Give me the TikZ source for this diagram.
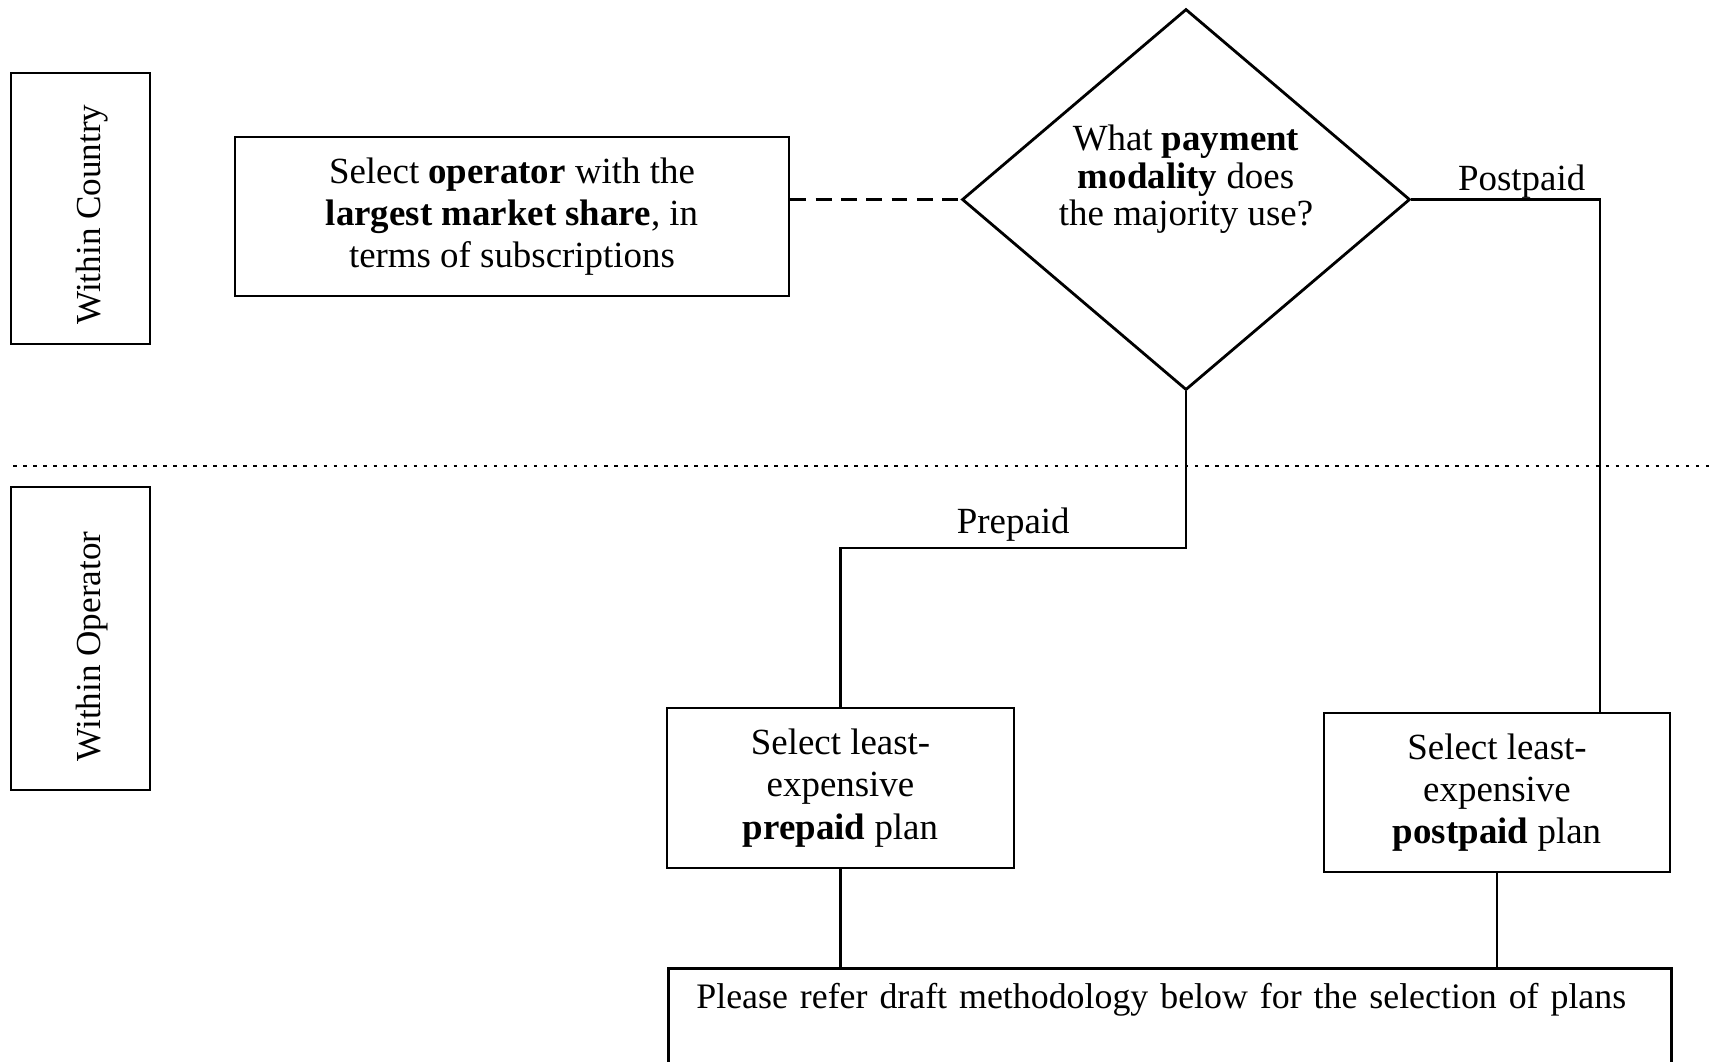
\documentclass[tikz,border=0pt]{standalone}
\usepackage{fontspec}
\setmainfont{Liberation Serif}
\usetikzlibrary{shapes.geometric}

\begin{document}
\begin{tikzpicture}[
  box/.style={draw, thick, align=center, inner sep=0pt},
  levelbox/.style={draw, thick, minimum width=1.39cm, inner sep=0pt},
  font=\fontsize{10.5}{12}\selectfont
]
  \useasboundingbox (0,0) rectangle (17.09,-10.61);

  % Levels on the left
  \node[levelbox, minimum height=2.71cm] (country) at (0.805,-2.085) {};
  \node[font=\fontsize{10}{12}\selectfont] (countrytext) at ([xshift=0.12cm,yshift=-0.06cm]country.center) {\rotatebox{90}{Within Country}};
  \node[levelbox, minimum height=3.03cm] (within) at (0.805,-6.385) {};
  \node[font=\fontsize{10}{12}\selectfont] (withintext) at ([xshift=0.12cm,yshift=-0.08cm]within.center) {\rotatebox{90}{Within Operator}};

  % Separator between the levels
  \draw[thick, dash pattern=on 1pt off 1.85pt] (0.13,-4.66) -- (17.09,-4.66);

  % Boxes
  \node[box, minimum width=5.54cm, minimum height=1.59cm] (operator) at (5.12,-2.165)
    {Select \textbf{operator} with the\\ \textbf{largest market share}, in\\ terms of subscriptions};
  \node[draw, thick, diamond, minimum width=4.48cm, minimum height=3.81cm, inner sep=0pt] (modality) at (11.86,-1.995) {};
  \node[align=center, font=\fontsize{10.5}{10.7}\selectfont] (question) at ([yshift=0.2cm]modality.center)
    {What \textbf{payment}\\ \textbf{modality} does\\ the majority use?};
  \node[box, minimum width=3.47cm, minimum height=1.60cm] (prepaid) at (8.405,-7.88)
    {Select least-\\ expensive\\ \textbf{prepaid} plan};
  \node[box, minimum width=3.46cm, minimum height=1.59cm] (postpaid) at (14.97,-7.925)
    {Select least-\\ expensive\\ \textbf{postpaid} plan};
  \node[draw, thick, anchor=north west, inner xsep=0.28cm, inner ysep=0pt, text width=9.47cm,
    text height=0.40cm, text depth=1.2cm, align=left, font=\fontsize{10.2}{12}\selectfont] (refer) at (6.67,-9.67)
    {\mbox{Please refer draft methodology below for the selection of plans}};

  % Connectors
  \coordinate (postturn) at (16.00,-1.995);
  \coordinate (preturn) at (11.86,-5.48);
  \draw[thick, dash pattern=on 4.5pt off 2.7pt] (operator.east |- modality.west) -- (modality.west);
  \draw[thick] (modality.east) -- node[above, xshift=0.16cm, yshift=-0.12cm] {Postpaid} (postturn) -- (postturn |- postpaid.north);
  \draw[thick] (modality.south) -- (preturn) -- node[above, yshift=-0.06cm] {Prepaid} (preturn -| prepaid.north) -- (prepaid.north);
  \draw[thick] (prepaid.south) -- (prepaid.south |- refer.north);
  \draw[thick] (postpaid.south) -- (postpaid.south |- refer.north);

\end{tikzpicture}
\end{document}
